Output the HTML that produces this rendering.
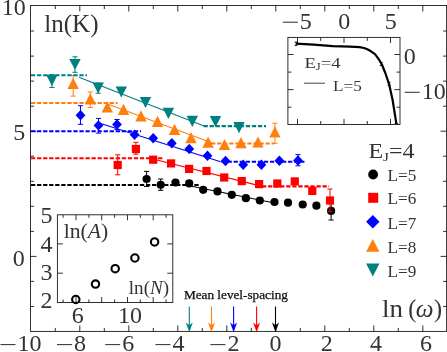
<!DOCTYPE html>
<html><head><meta charset="utf-8"><title>chart</title>
<style>html,body{margin:0;padding:0;background:#fff;overflow:hidden}body{width:447px;height:352px;position:relative;font-family:"Liberation Serif",serif}svg{will-change:transform}svg text{filter:grayscale(1)}</style>
</head><body>
<svg width="447" height="352" viewBox="0 0 447 352" style="position:absolute;left:0;top:0;font-family:'Liberation Serif',serif">
<rect width="447" height="352" fill="#fff"/>
<g stroke="#1a1a1a" stroke-width="0.9" fill="none">
<rect x="30.5" y="5.5" width="416.1" height="325.9"/>
<path d="M55.3 331.4v-3.5M55.3 5.5v3.5"/>
<path d="M79.8 331.4v-6M79.8 5.5v6"/>
<path d="M104.3 331.4v-3.5M104.3 5.5v3.5"/>
<path d="M128.8 331.4v-6M128.8 5.5v6"/>
<path d="M153.3 331.4v-3.5M153.3 5.5v3.5"/>
<path d="M177.8 331.4v-6M177.8 5.5v6"/>
<path d="M202.3 331.4v-3.5M202.3 5.5v3.5"/>
<path d="M226.8 331.4v-6M226.8 5.5v6"/>
<path d="M251.3 331.4v-3.5M251.3 5.5v3.5"/>
<path d="M275.8 331.4v-6M275.8 5.5v6"/>
<path d="M300.3 331.4v-3.5M300.3 5.5v3.5"/>
<path d="M324.8 331.4v-6M324.8 5.5v6"/>
<path d="M349.3 331.4v-3.5M349.3 5.5v3.5"/>
<path d="M373.8 331.4v-6M373.8 5.5v6"/>
<path d="M398.3 331.4v-3.5M398.3 5.5v3.5"/>
<path d="M422.8 331.4v-6M422.8 5.5v6"/>
<path d="M30.5 306.5h3.5M446.6 306.5h-3.5"/>
<path d="M30.5 281.4h3.5M446.6 281.4h-3.5"/>
<path d="M30.5 256.4h6M446.6 256.4h-6"/>
<path d="M30.5 231.4h3.5M446.6 231.4h-3.5"/>
<path d="M30.5 206.3h3.5M446.6 206.3h-3.5"/>
<path d="M30.5 181.3h3.5M446.6 181.3h-3.5"/>
<path d="M30.5 156.2h3.5M446.6 156.2h-3.5"/>
<path d="M30.5 131.2h6M446.6 131.2h-6"/>
<path d="M30.5 106.2h3.5M446.6 106.2h-3.5"/>
<path d="M30.5 81.1h3.5M446.6 81.1h-3.5"/>
<path d="M30.5 56.1h3.5M446.6 56.1h-3.5"/>
<path d="M30.5 31.0h3.5M446.6 31.0h-3.5"/>
</g>
<path d="M31 185H200" stroke="#000" stroke-width="2.1" stroke-dasharray="4.3 1.75" fill="none"/>
<path d="M183 184.5L272 202.5" stroke="#000" stroke-width="1.1" fill="none"/>
<path d="M146.6 171.4V186.5M144.0 171.4h5.2M144.0 186.5h5.2" stroke="#000" stroke-width="1" fill="none"/>
<path d="M160.7 179V190.3M158.1 179h5.2M158.1 190.3h5.2" stroke="#000" stroke-width="1" fill="none"/>
<path d="M331.1 201.5V220M328.5 201.5h5.2M328.5 220h5.2" stroke="#000" stroke-width="1" fill="none"/>
<circle cx="146.6" cy="179" r="4.1" fill="#000"/>
<circle cx="160.7" cy="184.8" r="4.1" fill="#000"/>
<circle cx="175.5" cy="182.5" r="4.1" fill="#000"/>
<circle cx="189.2" cy="183.4" r="4.1" fill="#000"/>
<circle cx="203.2" cy="189.8" r="4.1" fill="#000"/>
<circle cx="217.5" cy="191.4" r="4.1" fill="#000"/>
<circle cx="231.8" cy="194.8" r="4.1" fill="#000"/>
<circle cx="245.9" cy="198.2" r="4.1" fill="#000"/>
<circle cx="259.8" cy="200.5" r="4.1" fill="#000"/>
<circle cx="274.5" cy="202" r="4.1" fill="#000"/>
<circle cx="288" cy="202.7" r="4.1" fill="#000"/>
<circle cx="302.7" cy="204.5" r="4.1" fill="#000"/>
<circle cx="316.4" cy="205.7" r="4.1" fill="#000"/>
<circle cx="331.1" cy="210.9" r="4.1" fill="#000"/>
<path d="M31 158.2H162.5" stroke="#ff0000" stroke-width="2.1" stroke-dasharray="4.3 1.75" fill="none"/>
<path d="M150 158.2L262 186.4" stroke="#ff0000" stroke-width="1.1" fill="none"/>
<path d="M262 186.4H329" stroke="#ff0000" stroke-width="2.1" stroke-dasharray="4.3 1.75" fill="none"/>
<path d="M117.7 154.8V174.8M115.10000000000001 154.8h5.2M115.10000000000001 174.8h5.2" stroke="#ff0000" stroke-width="1" fill="none"/>
<path d="M135.9 142.3V154.2M133.3 142.3h5.2M133.3 154.2h5.2" stroke="#ff0000" stroke-width="1" fill="none"/>
<path d="M330 189V211.4M327.4 189h5.2M327.4 211.4h5.2" stroke="#ff0000" stroke-width="1" fill="none"/>
<rect x="113.60000000000001" y="160.9" width="8.2" height="8.2" fill="#ff0000"/>
<rect x="131.8" y="144.9" width="8.2" height="8.2" fill="#ff0000"/>
<rect x="149.1" y="155.6" width="8.2" height="8.2" fill="#ff0000"/>
<rect x="167.0" y="159.3" width="8.2" height="8.2" fill="#ff0000"/>
<rect x="185.0" y="164.8" width="8.2" height="8.2" fill="#ff0000"/>
<rect x="202.4" y="166.9" width="8.2" height="8.2" fill="#ff0000"/>
<rect x="220.1" y="173.4" width="8.2" height="8.2" fill="#ff0000"/>
<rect x="237.70000000000002" y="177.0" width="8.2" height="8.2" fill="#ff0000"/>
<rect x="255.00000000000003" y="180.0" width="8.2" height="8.2" fill="#ff0000"/>
<rect x="273.2" y="179.4" width="8.2" height="8.2" fill="#ff0000"/>
<rect x="290.7" y="177.3" width="8.2" height="8.2" fill="#ff0000"/>
<rect x="308.2" y="186.8" width="8.2" height="8.2" fill="#ff0000"/>
<rect x="325.9" y="196.4" width="8.2" height="8.2" fill="#ff0000"/>
<path d="M31 131.2H141" stroke="#0000ff" stroke-width="2.1" stroke-dasharray="4.3 1.75" fill="none"/>
<path d="M100 123.2L220.5 161.7" stroke="#0000ff" stroke-width="1.1" fill="none"/>
<path d="M221.5 161.7H305" stroke="#0000ff" stroke-width="2.1" stroke-dasharray="4.3 1.75" fill="none"/>
<path d="M80.5 105.7V124.3M77.9 105.7h5.2M77.9 124.3h5.2" stroke="#0000ff" stroke-width="1" fill="none"/>
<path d="M98.5 118.4V133.1M95.9 118.4h5.2M95.9 133.1h5.2" stroke="#0000ff" stroke-width="1" fill="none"/>
<path d="M117.0 119.5V129.6M114.4 119.5h5.2M114.4 129.6h5.2" stroke="#0000ff" stroke-width="1" fill="none"/>
<path d="M298 154.6V165.8M295.4 154.6h5.2M295.4 165.8h5.2" stroke="#0000ff" stroke-width="1" fill="none"/>
<path d="M80.5 110.0L85.4 115.2L80.5 120.4L75.6 115.2Z" fill="#0000ff"/>
<path d="M98.5 120.2L103.4 125.4L98.5 130.6L93.6 125.4Z" fill="#0000ff"/>
<path d="M117.0 119.2L121.9 124.4L117.0 129.6L112.1 124.4Z" fill="#0000ff"/>
<path d="M134.6 129.5L139.5 134.7L134.6 139.89999999999998L129.7 134.7Z" fill="#0000ff"/>
<path d="M153.2 133.10000000000002L158.1 138.3L153.2 143.5L148.29999999999998 138.3Z" fill="#0000ff"/>
<path d="M171.8 138.0L176.70000000000002 143.2L171.8 148.39999999999998L166.9 143.2Z" fill="#0000ff"/>
<path d="M189.3 143.8L194.20000000000002 149L189.3 154.2L184.4 149Z" fill="#0000ff"/>
<path d="M207.5 150.5L212.4 155.7L207.5 160.89999999999998L202.6 155.7Z" fill="#0000ff"/>
<path d="M225.5 155.8L230.4 161L225.5 166.2L220.6 161Z" fill="#0000ff"/>
<path d="M243.2 159.60000000000002L248.1 164.8L243.2 170.0L238.29999999999998 164.8Z" fill="#0000ff"/>
<path d="M261.4 159.60000000000002L266.29999999999995 164.8L261.4 170.0L256.5 164.8Z" fill="#0000ff"/>
<path d="M279.4 155.5L284.29999999999995 160.7L279.4 165.89999999999998L274.5 160.7Z" fill="#0000ff"/>
<path d="M298 155.3L302.9 160.5L298 165.7L293.1 160.5Z" fill="#0000ff"/>
<path d="M31 103H117.6" stroke="#ff7f0e" stroke-width="2.1" stroke-dasharray="4.3 1.75" fill="none"/>
<path d="M105 103L213.5 143.5" stroke="#ff7f0e" stroke-width="1.1" fill="none"/>
<path d="M205 143.5H274" stroke="#ff7f0e" stroke-width="2.1" stroke-dasharray="4.3 1.75" fill="none"/>
<path d="M73.2 75.5V96.1M70.60000000000001 75.5h5.2M70.60000000000001 96.1h5.2" stroke="#ff7f0e" stroke-width="1" fill="none"/>
<path d="M90.3 92V107.5M87.7 92h5.2M87.7 107.5h5.2" stroke="#ff7f0e" stroke-width="1" fill="none"/>
<path d="M274.9 123.2V143.4M272.29999999999995 123.2h5.2M272.29999999999995 143.4h5.2" stroke="#ff7f0e" stroke-width="1" fill="none"/>
<path d="M73.2 77.80000000000001L78.9 89.0L67.5 89.0Z" fill="#ff7f0e"/>
<path d="M90.3 93.2L96.0 104.39999999999999L84.6 104.39999999999999Z" fill="#ff7f0e"/>
<path d="M107.3 101.4L113.0 112.6L101.6 112.6Z" fill="#ff7f0e"/>
<path d="M123.5 103.80000000000001L129.2 115.0L117.8 115.0Z" fill="#ff7f0e"/>
<path d="M141 110.2L146.7 121.39999999999999L135.3 121.39999999999999Z" fill="#ff7f0e"/>
<path d="M157.5 115.7L163.2 126.89999999999999L151.8 126.89999999999999Z" fill="#ff7f0e"/>
<path d="M174.5 123.80000000000001L180.2 135.0L168.8 135.0Z" fill="#ff7f0e"/>
<path d="M191 132.0L196.7 143.2L185.3 143.2Z" fill="#ff7f0e"/>
<path d="M208.1 136.5L213.79999999999998 147.7L202.4 147.7Z" fill="#ff7f0e"/>
<path d="M224.5 138.9L230.2 150.1L218.8 150.1Z" fill="#ff7f0e"/>
<path d="M241 137.1L246.7 148.29999999999998L235.3 148.29999999999998Z" fill="#ff7f0e"/>
<path d="M258 136.4L263.7 147.6L252.3 147.6Z" fill="#ff7f0e"/>
<path d="M274.9 126.20000000000002L280.59999999999997 137.4L269.2 137.4Z" fill="#ff7f0e"/>
<path d="M31 75.2H87" stroke="#008080" stroke-width="2.1" stroke-dasharray="4.3 1.75" fill="none"/>
<path d="M79 77.3L204 126.1" stroke="#008080" stroke-width="1.1" fill="none"/>
<path d="M203.5 126.1H266" stroke="#008080" stroke-width="2.1" stroke-dasharray="4.3 1.75" fill="none"/>
<path d="M51.9 74.8V87.5M49.3 74.8h5.2M49.3 87.5h5.2" stroke="#008080" stroke-width="1" fill="none"/>
<path d="M75 56.8V72.3M72.4 56.8h5.2M72.4 72.3h5.2" stroke="#008080" stroke-width="1" fill="none"/>
<path d="M98.2 83V93.2M95.60000000000001 83h5.2M95.60000000000001 93.2h5.2" stroke="#008080" stroke-width="1" fill="none"/>
<path d="M51.9 85.89999999999999L57.6 74.7L46.199999999999996 74.7Z" fill="#008080"/>
<path d="M75 70.1L80.7 58.9L69.3 58.9Z" fill="#008080"/>
<path d="M98.2 93.6L103.9 82.4L92.5 82.4Z" fill="#008080"/>
<path d="M121.3 97.6L127.0 86.4L115.6 86.4Z" fill="#008080"/>
<path d="M145.5 108.1L151.2 96.9L139.8 96.9Z" fill="#008080"/>
<path d="M168.4 118.89999999999999L174.1 107.7L162.70000000000002 107.7Z" fill="#008080"/>
<path d="M192.3 126.89999999999999L198.0 115.7L186.60000000000002 115.7Z" fill="#008080"/>
<path d="M215.5 127.19999999999999L221.2 116.0L209.8 116.0Z" fill="#008080"/>
<path d="M239 133.2L244.7 122.0L233.3 122.0Z" fill="#008080"/>
<circle cx="373.1" cy="174.5" r="4.9" fill="#000"/>
<rect x="368.2" y="192.8" width="10.0" height="10.0" fill="#ff0000"/>
<path d="M372.8 215.10000000000002L379.5 221.8L372.8 228.5L366.1 221.8Z" fill="#0000ff"/>
<path d="M372.8 238.9L379.5 251.70000000000002L366.1 251.70000000000002Z" fill="#ff7f0e"/>
<path d="M372.8 276.4L379.5 263.6L366.1 263.6Z" fill="#008080"/>
<text x="368.5" y="158.1" font-size="20.5" text-anchor="start" fill="#333" textLength="46" lengthAdjust="spacingAndGlyphs">E<tspan font-size="13" dy="3">J</tspan><tspan dy="-3">=4</tspan></text>
<text x="387.5" y="180.6" font-size="16" text-anchor="start" fill="#333" textLength="28.8" lengthAdjust="spacingAndGlyphs">L=5</text>
<text x="387.5" y="204.2" font-size="16" text-anchor="start" fill="#333" textLength="28.8" lengthAdjust="spacingAndGlyphs">L=6</text>
<text x="387.5" y="228.6" font-size="16" text-anchor="start" fill="#333" textLength="28.8" lengthAdjust="spacingAndGlyphs">L=7</text>
<text x="387.5" y="252.8" font-size="16" text-anchor="start" fill="#333" textLength="28.8" lengthAdjust="spacingAndGlyphs">L=8</text>
<text x="387.5" y="276.9" font-size="16" text-anchor="start" fill="#333" textLength="28.8" lengthAdjust="spacingAndGlyphs">L=9</text>
<rect x="287.9" y="37.4" width="112.10000000000002" height="87.1" fill="#fff" stroke="#1a1a1a" stroke-width="0.9"/>
<g stroke="#1a1a1a" stroke-width="0.9" fill="none">
<path d="M297.5 124.5v-5.6M297.5 37.4v5.6"/>
<path d="M320.7 124.5v-3.5M320.7 37.4v3.5"/>
<path d="M344 124.5v-5.6M344 37.4v5.6"/>
<path d="M367.3 124.5v-3.5M367.3 37.4v3.5"/>
<path d="M390.5 124.5v-5.6M390.5 37.4v5.6"/>
<path d="M287.9 54.5h5.6M400.0 54.5h-5.6"/>
<path d="M287.9 72.1h3.5M400.0 72.1h-3.5"/>
<path d="M287.9 89.6h5.6M400.0 89.6h-5.6"/>
<path d="M287.9 107.2h3.5M400.0 107.2h-3.5"/>
</g>
<path d="M296 43.6L313.5 44.7L332.7 46.1L350 46.7L359.6 47.1L364 48L367.3 49.3L371 51.3L375 54.2L378.5 58.8L381.9 64.5L385.5 73.5L389.2 84.5L392.6 100L396.4 123.9" stroke="#000" stroke-width="2.2" fill="none" stroke-linejoin="round"/>
<path d="M296 42v3.5M294.5 42h3M294.5 45.5h3M381.2 62.5v3M379.7 62.5h3M379.7 65.5h3M389 82.3v3M387.5 82.3h3M387.5 85.3h3M394.6 123.5h3.4" stroke="#000" stroke-width="0.8" fill="none"/>
<text x="304.4" y="67.8" font-size="15.5" text-anchor="start" fill="#333" textLength="36.3" lengthAdjust="spacingAndGlyphs">E<tspan font-size="10.5" dy="2.3">J</tspan><tspan dy="-2.3">=4</tspan></text>
<path d="M304 83.2H325" stroke="#444" stroke-width="1"/>
<text x="333" y="91" font-size="15.5" text-anchor="start" fill="#333" textLength="28.8" lengthAdjust="spacingAndGlyphs">L=5</text>
<text x="305.8" y="28.8" font-size="23" text-anchor="middle" fill="#333" textLength="12.0" lengthAdjust="spacingAndGlyphs">5</text>
<path d="M282.8 22.2H297.8" stroke="#333" stroke-width="1.05" fill="none"/>
<text x="344.3" y="28.8" font-size="23" text-anchor="middle" fill="#333" textLength="12.0" lengthAdjust="spacingAndGlyphs">0</text>
<text x="390.8" y="28.8" font-size="23" text-anchor="middle" fill="#333" textLength="12.0" lengthAdjust="spacingAndGlyphs">5</text>
<text x="409.7" y="64.0" font-size="23" text-anchor="middle" fill="#333" textLength="12.0" lengthAdjust="spacingAndGlyphs">0</text>
<text x="433.7" y="98.9" font-size="23" text-anchor="middle" fill="#333" textLength="24.0" lengthAdjust="spacingAndGlyphs">10</text>
<path d="M404.7 92.3H419.7" stroke="#333" stroke-width="1.05" fill="none"/>
<rect x="57.4" y="214.8" width="115.4" height="87.69999999999999" fill="#fff" stroke="#1a1a1a" stroke-width="0.9"/>
<g stroke="#1a1a1a" stroke-width="0.9" fill="none">
<path d="M63.1 302.5v-3M63.1 214.8v3"/>
<path d="M76.0 302.5v-5.5M76.0 214.8v5.5"/>
<path d="M88.9 302.5v-3M88.9 214.8v3"/>
<path d="M101.7 302.5v-5.5M101.7 214.8v5.5"/>
<path d="M114.6 302.5v-3M114.6 214.8v3"/>
<path d="M127.5 302.5v-5.5M127.5 214.8v5.5"/>
<path d="M140.3 302.5v-3M140.3 214.8v3"/>
<path d="M153.2 302.5v-5.5M153.2 214.8v5.5"/>
<path d="M166.1 302.5v-3M166.1 214.8v3"/>
<path d="M57.4 243.9h5.5M172.8 243.9h-5.5"/>
<path d="M57.4 273.2h5.5M172.8 273.2h-5.5"/>
</g>
<circle cx="75.8" cy="299.5" r="3.7" fill="none" stroke="#000" stroke-width="2.1"/>
<circle cx="95.5" cy="284.1" r="3.7" fill="none" stroke="#000" stroke-width="2.1"/>
<circle cx="115.2" cy="268.7" r="3.7" fill="none" stroke="#000" stroke-width="2.1"/>
<circle cx="134.9" cy="258" r="3.7" fill="none" stroke="#000" stroke-width="2.1"/>
<circle cx="154.6" cy="241.9" r="3.7" fill="none" stroke="#000" stroke-width="2.1"/>
<text x="63.7" y="237.6" font-size="21" text-anchor="start" fill="#333" textLength="44.5" lengthAdjust="spacingAndGlyphs">ln(<tspan font-style="italic">A</tspan>)</text>
<text x="128.8" y="293.8" font-size="19" text-anchor="start" fill="#333" textLength="40.3" lengthAdjust="spacingAndGlyphs">ln(<tspan font-style="italic">N</tspan>)</text>
<text x="46.5" y="222.6" font-size="23" text-anchor="middle" fill="#333" textLength="12.0" lengthAdjust="spacingAndGlyphs">5</text>
<text x="46.5" y="251.9" font-size="23" text-anchor="middle" fill="#333" textLength="12.0" lengthAdjust="spacingAndGlyphs">4</text>
<text x="46.5" y="279.9" font-size="23" text-anchor="middle" fill="#333" textLength="12.0" lengthAdjust="spacingAndGlyphs">3</text>
<text x="46.5" y="307.9" font-size="23" text-anchor="middle" fill="#333" textLength="12.0" lengthAdjust="spacingAndGlyphs">2</text>
<text x="77.8" y="322.7" font-size="23" text-anchor="middle" fill="#333" textLength="12.0" lengthAdjust="spacingAndGlyphs">6</text>
<text x="130" y="322.7" font-size="23" text-anchor="middle" fill="#333" textLength="24.0" lengthAdjust="spacingAndGlyphs">10</text>
<path d="M189.3 306.5V327" stroke="#008080" stroke-width="1.1" fill="none"/>
<path d="M189.3 332.2L185.8 322.4Q187.9 324.2 189.3 325.2Q190.70000000000002 324.2 192.8 322.4Z" fill="#008080"/>
<path d="M211.5 306.5V327" stroke="#ff7f0e" stroke-width="1.1" fill="none"/>
<path d="M211.5 332.2L208.0 322.4Q210.1 324.2 211.5 325.2Q212.9 324.2 215.0 322.4Z" fill="#ff7f0e"/>
<path d="M233.6 306.5V327" stroke="#0000ff" stroke-width="1.1" fill="none"/>
<path d="M233.6 332.2L230.1 322.4Q232.2 324.2 233.6 325.2Q235.0 324.2 237.1 322.4Z" fill="#0000ff"/>
<path d="M256.6 306.5V327" stroke="#ff0000" stroke-width="1.1" fill="none"/>
<path d="M256.6 332.2L253.10000000000002 322.4Q255.20000000000002 324.2 256.6 325.2Q258.0 324.2 260.1 322.4Z" fill="#ff0000"/>
<path d="M275.5 306.5V327" stroke="#000" stroke-width="1.1" fill="none"/>
<path d="M275.5 332.2L272.0 322.4Q274.1 324.2 275.5 325.2Q276.9 324.2 279.0 322.4Z" fill="#000"/>
<text x="183.9" y="298.8" font-size="11.6" text-anchor="start" fill="#333" textLength="104" lengthAdjust="spacingAndGlyphs" style="fill:#111;stroke:#111;stroke-width:0.25">Mean level-spacing</text>
<text x="44.3" y="32.2" font-size="24.3" text-anchor="start" fill="#333" textLength="54.2" lengthAdjust="spacingAndGlyphs">ln(K)</text>
<text x="381.9" y="317.4" font-size="24.3" text-anchor="start" fill="#333" textLength="21" lengthAdjust="spacingAndGlyphs">ln</text>
<text x="408.3" y="317.4" font-size="24.3" text-anchor="start" fill="#333" >(</text>
<text x="415.8" y="317.4" font-size="24.3" text-anchor="start" fill="#333" font-style="italic" textLength="17.8" lengthAdjust="spacingAndGlyphs">ω</text>
<text x="433.9" y="317.4" font-size="24.3" text-anchor="start" fill="#333" >)</text>
<text x="13.8" y="15.1" font-size="23" text-anchor="middle" fill="#333" textLength="24.0" lengthAdjust="spacingAndGlyphs">10</text>
<text x="19.2" y="140.2" font-size="23" text-anchor="middle" fill="#333" textLength="12.0" lengthAdjust="spacingAndGlyphs">5</text>
<text x="18.8" y="265.7" font-size="23" text-anchor="middle" fill="#333" textLength="12.0" lengthAdjust="spacingAndGlyphs">0</text>
<text x="29.5" y="351.2" font-size="23" text-anchor="middle" fill="#333" textLength="24.0" lengthAdjust="spacingAndGlyphs">10</text>
<path d="M0.5 344.6H15.5" stroke="#333" stroke-width="1.05" fill="none"/>
<text x="80" y="351.2" font-size="23" text-anchor="middle" fill="#333" textLength="12.0" lengthAdjust="spacingAndGlyphs">8</text>
<path d="M57.0 344.6H72.0" stroke="#333" stroke-width="1.05" fill="none"/>
<text x="128.2" y="351.2" font-size="23" text-anchor="middle" fill="#333" textLength="12.0" lengthAdjust="spacingAndGlyphs">6</text>
<path d="M105.2 344.6H120.2" stroke="#333" stroke-width="1.05" fill="none"/>
<text x="178.4" y="351.2" font-size="23" text-anchor="middle" fill="#333" textLength="12.0" lengthAdjust="spacingAndGlyphs">4</text>
<path d="M155.4 344.6H170.4" stroke="#333" stroke-width="1.05" fill="none"/>
<text x="233.4" y="351.2" font-size="23" text-anchor="middle" fill="#333" textLength="12.0" lengthAdjust="spacingAndGlyphs">2</text>
<path d="M210.4 344.6H225.4" stroke="#333" stroke-width="1.05" fill="none"/>
<text x="275.5" y="351.2" font-size="23" text-anchor="middle" fill="#333" textLength="12.0" lengthAdjust="spacingAndGlyphs">0</text>
<text x="326.7" y="351.2" font-size="23" text-anchor="middle" fill="#333" textLength="12.0" lengthAdjust="spacingAndGlyphs">2</text>
<text x="376" y="351.2" font-size="23" text-anchor="middle" fill="#333" textLength="12.0" lengthAdjust="spacingAndGlyphs">4</text>
<text x="426" y="351.2" font-size="23" text-anchor="middle" fill="#333" textLength="12.0" lengthAdjust="spacingAndGlyphs">6</text>
</svg>
</body></html>
